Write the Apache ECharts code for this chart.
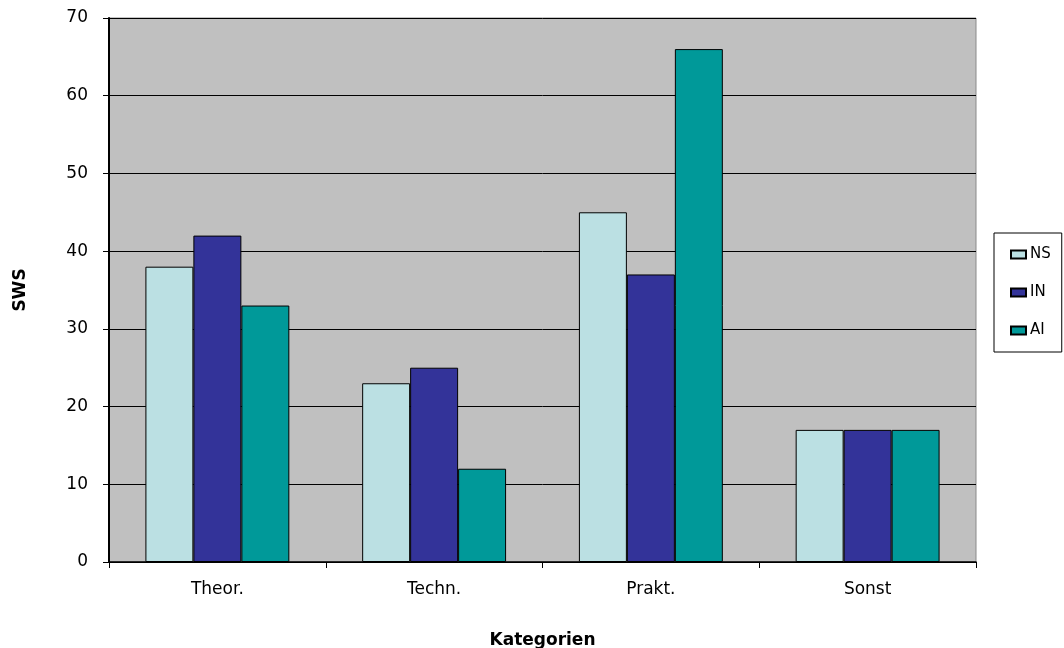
<!DOCTYPE html>
<html>
<head>
<meta charset="utf-8">
<script src="https://cdn.jsdelivr.net/npm/echarts@6/dist/echarts.min.js"></script>
<style>
  html, body { margin: 0; padding: 0; background: #fff; }
  #chart { width: 1064px; height: 648px; }
</style>
</head>
<body>
<div id="chart"></div>
<script>
// Semesterwochenstunden je Kategorie und Studiengang
const categories = ['Theor.', 'Techn.', 'Prakt.', 'Sonst'];
const seriesNames = ['NS', 'IN', 'AI'];
const valuesNS = [38, 23, 45, 17];
const valuesIN = [42, 25, 37, 17];
const valuesAI = [33, 12, 66, 17];
const colors = ['#BBE0E3', '#333399', '#009999'];

const font = '"DejaVu Sans", "Liberation Sans", Arial, sans-serif';
const chart = echarts.init(document.getElementById('chart'), null, { renderer: 'canvas' });

const makeSeries = (name, data, color) => ({
  name: name,
  type: 'bar',
  data: data,
  barGap: '0%',
  barCategoryGap: '33.6%',
  itemStyle: { color: color, borderColor: '#000', borderWidth: 1 },
  emphasis: { disabled: true }
});

chart.setOption({
  animation: false,
  textStyle: { fontFamily: font },
  grid: {
    left: 109, right: 88, top: 18, bottom: 86,
    outerBoundsMode: 'none',
    containLabel: false,
    show: true, backgroundColor: '#C0C0C0',
    borderColor: '#8a8a8a', borderWidth: 1
  },
  legend: {
    orient: 'vertical',
    left: 994, top: 233,
    padding: [14, 11, 14, 16],
    itemGap: 23,
    itemWidth: 15, itemHeight: 8,
    icon: 'rect',
    borderColor: '#000', borderWidth: 1,
    textStyle: { fontFamily: font, fontSize: 15, color: '#000', padding: [0, 0, 0, -1] },
    data: seriesNames
  },
  xAxis: {
    type: 'category',
    data: categories,
    name: 'Kategorien',
    nameLocation: 'middle',
    nameGap: 70,
    nameTextStyle: { fontFamily: font, fontSize: 17, fontWeight: 'bold', color: '#000' },
    axisLine: { lineStyle: { color: '#000', width: 1.5 } },
    axisTick: { show: true, length: 6, alignWithLabel: false, lineStyle: { color: '#000' } },
    axisLabel: { fontFamily: font, fontSize: 17, color: '#000', margin: 19 },
    splitLine: { show: false }
  },
  yAxis: {
    type: 'value',
    min: 0, max: 70, interval: 10,
    name: 'SWS',
    nameLocation: 'middle',
    nameGap: 80,
    nameRotate: 90,
    nameTextStyle: { fontFamily: font, fontSize: 17, fontWeight: 'bold', color: '#000' },
    axisLine: { show: true, lineStyle: { color: '#000', width: 2 } },
    axisTick: { show: true, length: 6, lineStyle: { color: '#000' } },
    axisLabel: { fontFamily: font, fontSize: 17, color: '#000', margin: 21 },
    splitLine: { show: true, lineStyle: { color: '#000', width: 1 } }
  },
  series: [
    makeSeries(seriesNames[0], valuesNS, colors[0]),
    makeSeries(seriesNames[1], valuesIN, colors[1]),
    makeSeries(seriesNames[2], valuesAI, colors[2])
  ]
});
</script>
</body>
</html>
